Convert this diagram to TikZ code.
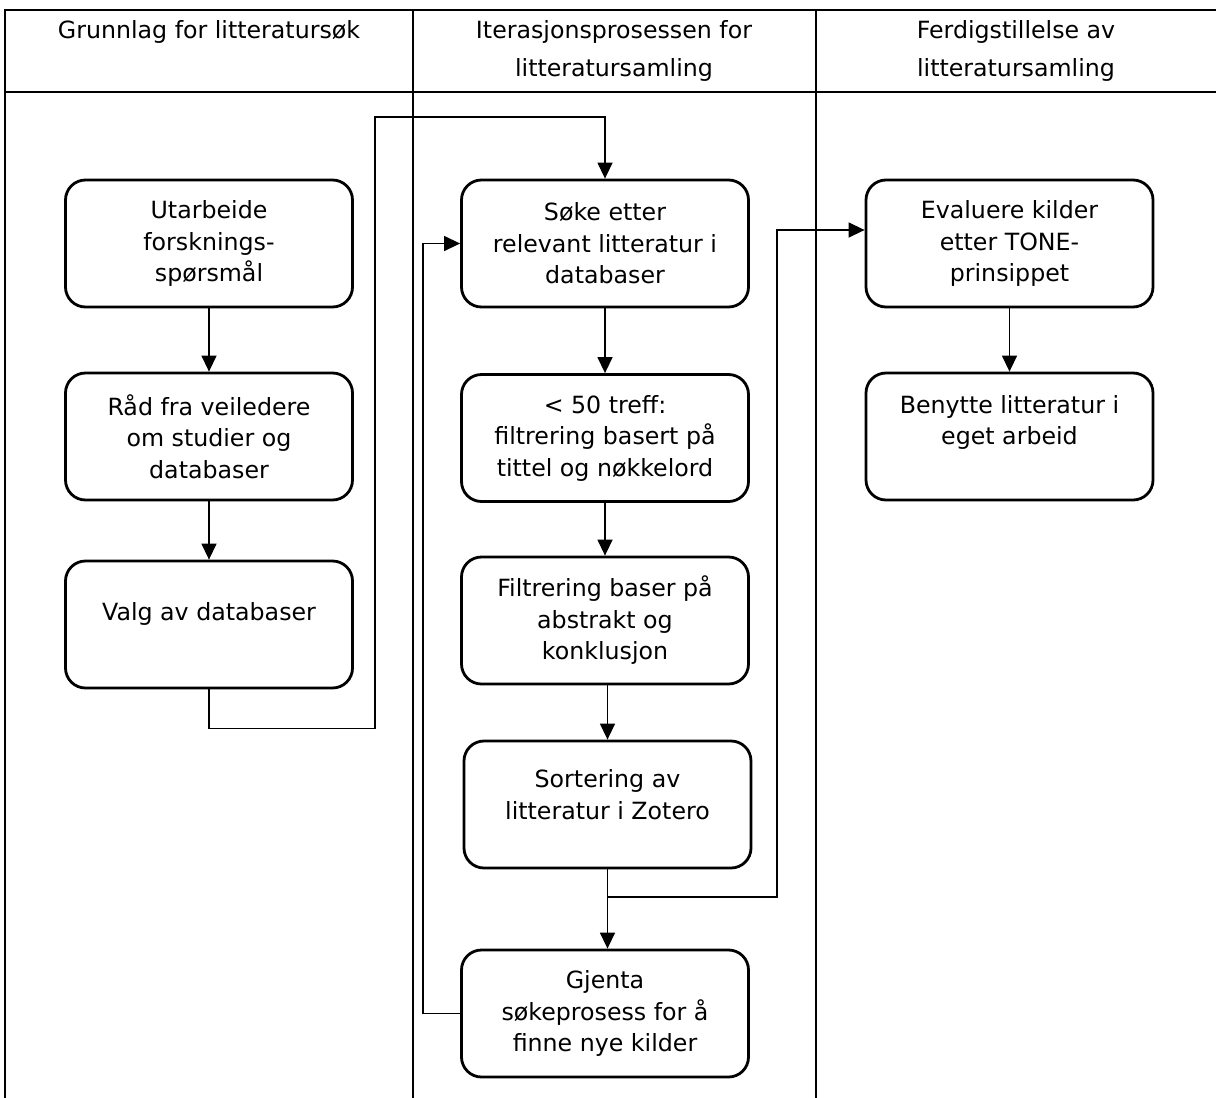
\documentclass[tikz,border=0pt]{standalone}
\usepackage{fontspec}
\setmainfont{DejaVu Sans}
\usetikzlibrary{arrows.meta}
\newcommand{\liftby}[2]{\raisebox{#1}[\height][\depth]{#2}}

\begin{document}
\begin{tikzpicture}[x=1pt,y=-1pt,
  box/.style={draw,line width=2.8pt,rounded corners=20pt,minimum width=287pt,
    minimum height=127pt,inner sep=0pt,align=center,
    font=\fontsize{23.7}{31.5}\selectfont},
  head/.style={anchor=north,inner sep=0pt,align=center,
    font=\fontsize{23.7}{38}\selectfont},
  frame/.style={line width=2.8pt},
  flow/.style={line width=1.4pt,-{Triangle[length=16pt,width=15pt]}}]
\useasboundingbox (0,0) rectangle (1216,1098);
% swimlanes
\draw[frame] (5,1098) -- (5,10) -- (1216,10);
\draw[frame] (5,92) -- (1216,92);
\draw[frame] (413,10) -- (413,1098);
\draw[frame] (816,10) -- (816,1098);
\node[head] (h1) at (209,20) {Grunnlag for litteratursøk};
\node[head] (h2) at (614,20) {Iterasjonsprosessen for\\litteratursamling};
\node[head] (h3) at (1016,20) {Ferdigstillelse av\\litteratursamling};
% column 1
\node[box] (utarb) at (209,243.5) {Utarbeide\\forsknings-\\spørsmål};
\node[box] (raad) at (209,436.5) {Råd fra veiledere\\om studier og\\databaser};
\node[box] (valg) at (209,624.5) {\liftby{11pt}{Valg av databaser}};
% column 2
\node[box] (soke) at (605,243.5) {Søke etter\\relevant litteratur i\\databaser};
\node[box] (treff) at (605,438) {< 50 treff:\\filtrering basert på\\tittel og nøkkelord};
\node[box] (filt) at (605,620.5) {Filtrering baser på\\abstrakt og\\konklusjon};
\node[box] (sort) at (607.5,804.5) {\liftby{10pt}{Sortering av}\\\liftby{10pt}{litteratur i Zotero}};
\node[box] (gjenta) at (605,1013.5) {Gjenta\\søkeprosess for å\\finne nye kilder};
% column 3
\node[box] (eval) at (1009.5,243.5) {Evaluere kilder\\etter TONE-\\prinsippet};
\node[box] (benytt) at (1009.5,436.5) {\liftby{14pt}{Benytte litteratur i}\\\liftby{14pt}{eget arbeid}};
% connectors
\draw[flow] (utarb) -- (raad);
\draw[flow] (raad) -- (valg);
\draw[flow] (valg.south) -- ++(0,39) -| (375,117) -| (soke.north);
\draw[flow] (soke) -- (treff);
\draw[flow] (treff) -- (filt);
\draw[flow] (sort.north |- filt.south) -- (sort.north);
\draw[flow] (sort.south) -- (sort.south |- gjenta.north);
\coordinate (split) at (607.5,897);
\draw[flow] (split) -| (777,230) -- (eval.west |- 0,230);
\draw[flow] (gjenta.west) -- ++(-37,0) |- (soke.west);
\draw[flow] (eval) -- (benytt);
\end{tikzpicture}
\end{document}
